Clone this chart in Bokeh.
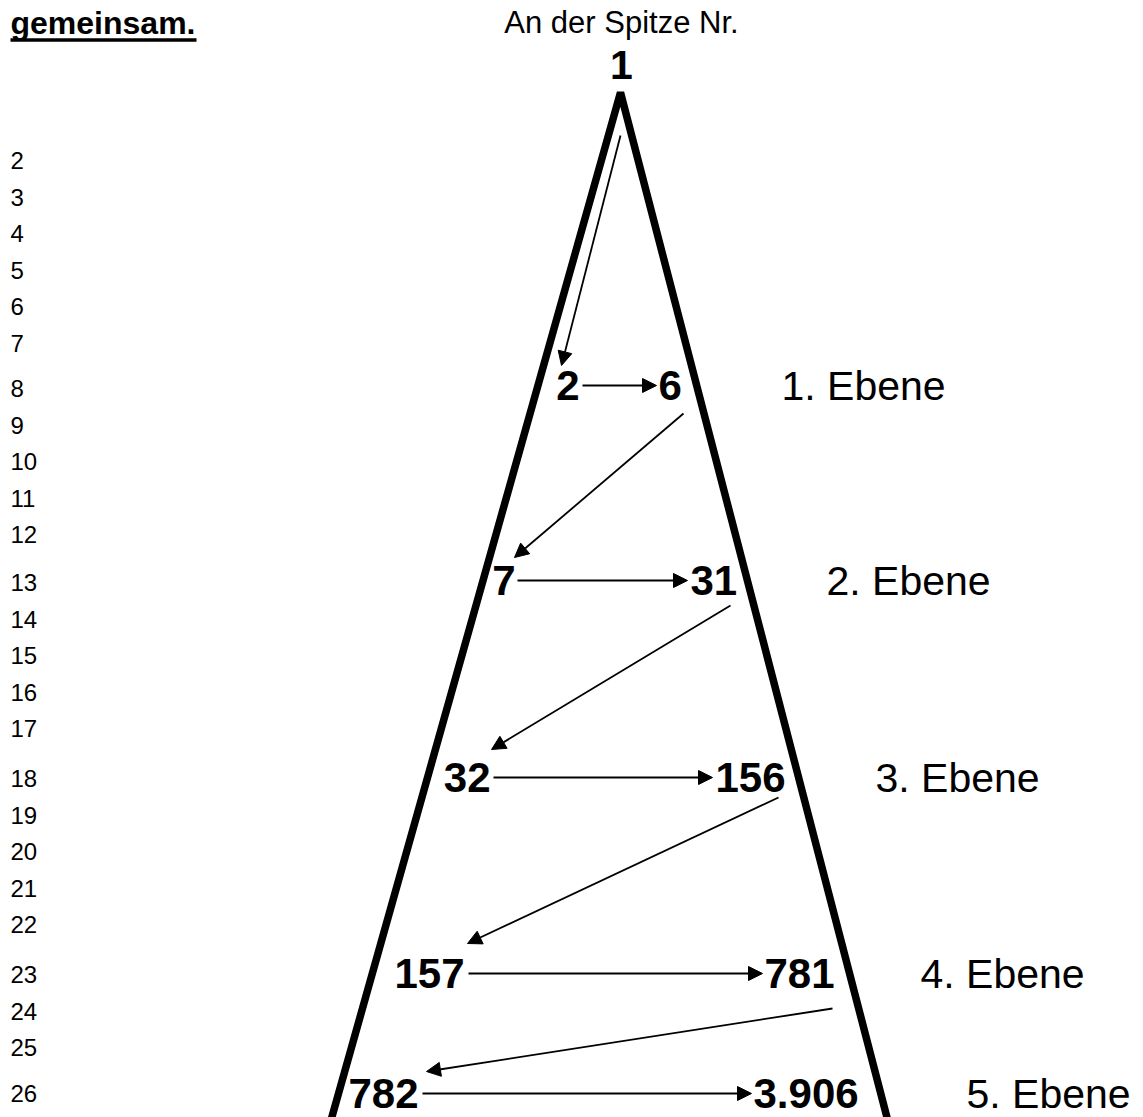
from bokeh.plotting import figure
from bokeh.models import Range1d, Arrow, NormalHead, ColumnDataSource
from bokeh.embed import file_html
from bokeh.resources import INLINE
from bokeh.core.properties import value

# ---------------- data ----------------
title_left = "gemeinsam."
title_top = "An der Spitze Nr."
top_number = "1"
line_numbers = [str(i) for i in range(2, 27)]
left_numbers = ["2", "7", "32", "157", "782"]
right_numbers = ["6", "31", "156", "781", "3.906"]
level_names = ["1. Ebene", "2. Ebene", "3. Ebene", "4. Ebene", "5. Ebene"]

# ---------------- layout (pixel coordinates of the page) ----------------
line_number_y = [160, 196.5, 233, 269.5, 306, 342.5, 388, 424.5, 461, 497.5, 534,
                 582, 618.5, 655, 691.5, 728, 778, 814.5, 851, 887.5, 924,
                 974, 1010.5, 1047, 1093]
level_y = [385, 580, 777, 973, 1093]
left_x = [579, 515, 490, 464, 418]      # right edge of left numbers
right_x = [658, 690, 715, 764, 753]     # left edge of right numbers
name_x = [781, 826, 875, 920, 966]
horiz_start = [582, 517, 493, 468, 422]
horiz_end = [656, 687, 712, 762, 751]
diag_start = [(620, 135), (683, 413), (730, 605), (778, 797), (832, 1008)]
diag_end = [(561, 365), (514, 557), (491, 749), (467, 943), (426, 1071)]

apex = (620, 92)
slope_left = 0.2817
slope_right = 0.260
base_y = 1130

W, H = 1143, 1117
p = figure(width=W, height=H, x_range=Range1d(0, W), y_range=Range1d(H, 0),
           output_backend="svg", toolbar_location=None, min_border=0)
p.axis.visible = False
p.grid.visible = False
p.outline_line_color = None
p.background_fill_color = "white"
p.border_fill_color = "white"

FONT = value("Liberation Sans")

# pyramid
tri_x = [apex[0] - slope_left * (base_y - apex[1]), apex[0],
         apex[0] + slope_right * (base_y - apex[1])]
tri_y = [base_y, apex[1], base_y]
p.line(tri_x, tri_y, line_width=7.5, line_color="black", line_join="bevel")

# headings
p.text(x=[10], y=[22], text=[title_left], text_font=FONT, text_font_size="32px",
       text_font_style="bold", text_baseline="middle", text_align="left", text_color="black")
p.segment(x0=[10], y0=[39.5], x1=[196], y1=[39.5], line_width=3.5, line_color="black")
p.text(x=[621], y=[22], text=[title_top], text_font=FONT, text_font_size="31px",
       text_baseline="middle", text_align="center", text_color="black")
p.text(x=[621], y=[64], text=[top_number], text_font=FONT, text_font_size="41px",
       text_font_style="bold", text_baseline="middle", text_align="center", text_color="black")

# line numbers
src_ln = ColumnDataSource(dict(x=[10] * len(line_numbers), y=line_number_y, t=line_numbers))
p.text(x="x", y="y", text="t", source=src_ln, text_font=FONT, text_font_size="24px",
       text_baseline="middle", text_align="left", text_color="black")

# level numbers
src_l = ColumnDataSource(dict(x=left_x, y=level_y, t=left_numbers))
p.text(x="x", y="y", text="t", source=src_l, text_font=FONT, text_font_size="42px",
       text_font_style="bold", text_baseline="middle", text_align="right", text_color="black")
src_r = ColumnDataSource(dict(x=right_x, y=level_y, t=right_numbers))
p.text(x="x", y="y", text="t", source=src_r, text_font=FONT, text_font_size="42px",
       text_font_style="bold", text_baseline="middle", text_align="left", text_color="black")
src_n = ColumnDataSource(dict(x=name_x, y=level_y, t=level_names))
p.text(x="x", y="y", text="t", source=src_n, text_font=FONT, text_font_size="41px",
       text_baseline="middle", text_align="left", text_color="black")

# arrows
for xs, xe, y in zip(horiz_start, horiz_end, level_y):
    p.add_layout(Arrow(end=NormalHead(size=14, fill_color="black", line_color="black"),
                       x_start=xs, y_start=y, x_end=xe, y_end=y,
                       line_width=1.8, line_color="black"))
for (xs, ys), (xe, ye) in zip(diag_start, diag_end):
    p.add_layout(Arrow(end=NormalHead(size=14, fill_color="black", line_color="black"),
                       x_start=xs, y_start=ys, x_end=xe, y_end=ye,
                       line_width=1.8, line_color="black"))

open("out.html", "w").write(file_html(p, INLINE))
